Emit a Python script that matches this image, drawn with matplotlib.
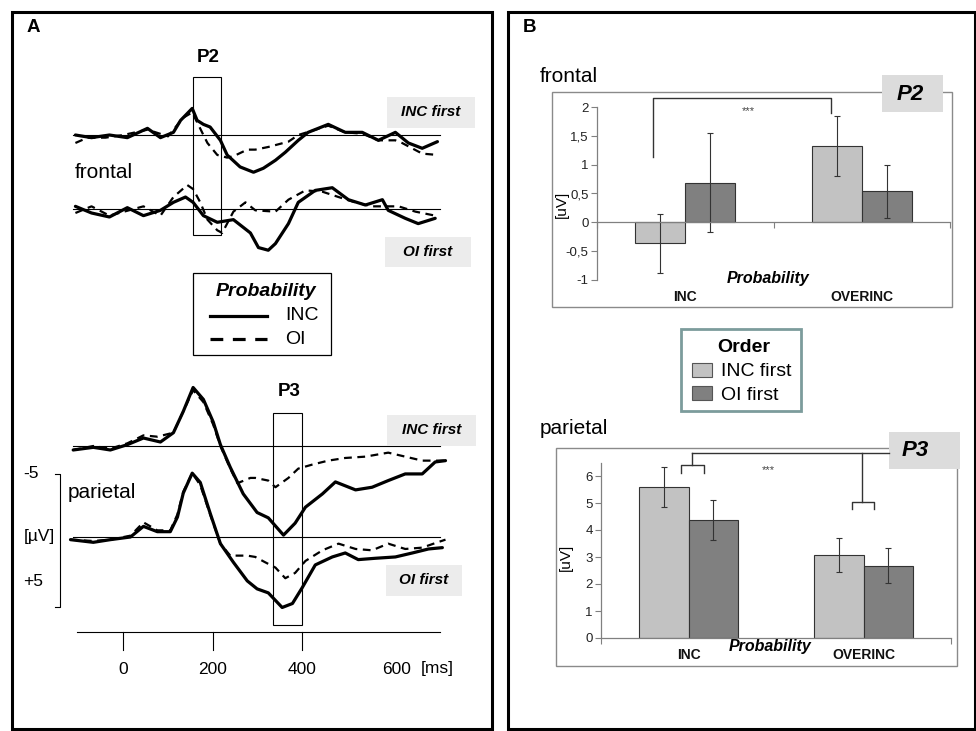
import matplotlib
matplotlib.use('Agg')
import matplotlib.pyplot as plt
import matplotlib.transforms as mtransforms
from matplotlib.patches import Rectangle
from matplotlib.lines import Line2D
import numpy as np

plt.rcParams['font.family'] = ['Liberation Sans', 'DejaVu Sans']

# ---------------------------------------------------------------- data
# ERP waveforms: time in ms, amplitude in µV (negative up, as in the figure)
# frontal, INC first block
fINC_sol_t = [-107, -71, -31, 9, 54, 83, 112, 128, 154, 165, 179, 194, 217, 232, 261, 291, 313, 340, 362, 391, 413, 458, 496, 534, 570, 608, 637, 668, 702]
fINC_sol_v = [0.0, 0.2, 0.0, 0.2, -0.5, 0.2, -0.2, -1.1, -2.0, -1.1, -0.8, -0.6, 0.4, 1.5, 2.4, 2.8, 2.5, 1.9, 1.3, 0.4, -0.2, -0.8, -0.2, -0.2, 0.4, -0.2, 0.6, 1.0, 0.5]
fINC_das_t = [-107, -80, -40, 0, 54, 100, 134, 154, 179, 188, 210, 232, 246, 277, 295, 324, 369, 391, 458, 496, 534, 570, 608, 623, 668, 702]
fINC_das_v = [0.6, 0.2, 0.2, 0.0, -0.4, 0.1, -1.3, -1.7, 0.0, 0.6, 1.5, 1.7, 1.6, 1.1, 1.1, 0.9, 0.5, 0.0, -0.7, -0.2, -0.1, 0.4, 0.4, 0.6, 1.4, 1.5]
# frontal, OI first block
fOI_sol_t = [-107, -71, -31, 9, 45, 83, 112, 139, 156, 179, 210, 246, 284, 302, 324, 340, 369, 391, 429, 467, 503, 541, 579, 592, 630, 659, 697]
fOI_sol_v = [-0.2, 0.3, 0.6, -0.1, 0.5, 0.1, -0.5, -0.9, -0.5, 0.5, 1.0, 0.8, 1.8, 2.9, 3.1, 2.6, 1.1, -0.5, -1.4, -1.6, -0.7, -0.3, -0.7, 0.1, 0.7, 1.1, 0.7]
fOI_das_t = [-107, -71, -31, 45, 83, 112, 143, 156, 172, 188, 210, 221, 246, 273, 295, 340, 369, 407, 445, 481, 518, 556, 615, 653, 697]
fOI_das_v = [0.3, -0.2, 0.5, -0.2, 0.5, -0.9, -1.8, -1.5, -0.5, 0.8, 1.6, 1.8, 0.2, -0.5, 0.1, 0.2, -0.7, -1.4, -1.3, -0.9, -0.5, -0.2, -0.2, 0.2, 0.5]
# parietal, INC first block
pINC_sol_t = [-112, -67, -29, 9, 45, 83, 112, 134, 156, 179, 201, 217, 239, 268, 299, 324, 358, 384, 407, 445, 474, 519, 556, 592, 630, 668, 697, 720]
pINC_sol_v = [0.3, 0.1, 0.3, -0.1, -0.6, -0.3, -1.0, -2.6, -4.4, -3.5, -1.8, -0.1, 1.6, 3.6, 5.0, 5.4, 6.7, 5.8, 4.6, 3.6, 2.7, 3.3, 3.1, 2.6, 2.1, 2.1, 1.2, 1.1]
pINC_das_t = [-112, -67, -29, 9, 45, 76, 112, 134, 156, 179, 201, 217, 239, 255, 284, 295, 324, 340, 369, 391, 422, 458, 496, 541, 592, 630, 668, 697, 720]
pINC_das_v = [0.3, 0.0, 0.2, -0.2, -0.8, -0.7, -1.0, -2.6, -4.2, -3.3, -1.6, 0.0, 1.7, 2.8, 2.4, 2.4, 2.6, 3.1, 2.4, 1.7, 1.4, 1.1, 0.9, 0.8, 0.5, 0.8, 1.1, 1.1, 1.1]
# parietal, OI first block
pOI_sol_t = [-118, -67, -29, 16, 45, 76, 105, 121, 134, 154, 172, 194, 217, 246, 277, 299, 324, 355, 378, 400, 429, 467, 496, 525, 563, 608, 646, 682, 713]
pOI_sol_v = [0.2, 0.4, 0.2, 0.0, -0.8, -0.4, -0.4, -1.5, -3.3, -4.8, -4.1, -1.8, 0.5, 1.9, 3.3, 3.9, 4.2, 5.3, 5.0, 3.8, 2.1, 1.5, 1.2, 1.7, 1.6, 1.5, 1.2, 0.9, 0.8]
pOI_das_t = [-118, -67, -29, 16, 45, 76, 105, 121, 134, 154, 172, 194, 217, 239, 277, 295, 317, 340, 362, 384, 407, 445, 481, 519, 556, 592, 630, 668, 702, 720]
pOI_das_v = [0.2, 0.3, 0.2, -0.1, -1.1, -0.5, -0.5, -1.7, -3.4, -4.8, -3.9, -1.7, 0.5, 1.4, 1.4, 1.5, 1.9, 2.3, 3.1, 2.7, 1.8, 1.0, 0.5, 0.9, 1.0, 0.5, 0.9, 0.8, 0.4, 0.2]

time_ticks = [0, 200, 400]

# bar charts (panel B)
categories = ['INC', 'OVERINC']
order_labels = ['INC first', 'OI first']
p2_inc_first = [-0.36, 1.32]
p2_inc_first_err = [0.51, 0.52]
p2_oi_first = [0.69, 0.54]
p2_oi_first_err = [0.86, 0.46]
p2_yticks = [-1, -0.5, 0, 0.5, 1, 1.5, 2]
p2_yticklabels = ['-1', '-0,5', '0', '0,5', '1', '1,5', '2']
p3_inc_first = [5.60, 3.07]
p3_inc_first_err = [0.74, 0.63]
p3_oi_first = [4.37, 2.68]
p3_oi_first_err = [0.73, 0.64]
p3_yticks = [0, 1, 2, 3, 4, 5, 6]
p3_yticklabels = ['0', '1', '2', '3', '4', '5', '6']

# ---------------------------------------------------------------- layout helpers
W, H = 976, 731
fig = plt.figure(figsize=(W / 100, H / 100), dpi=100)
fig.patch.set_facecolor('white')
px = mtransforms.Affine2D().scale(1.0 / W, -1.0 / H).translate(0, 1) + fig.transFigure


def rect_px(x0, y0, x1, y1):
    return [x0 / W, 1 - y1 / H, (x1 - x0) / W, (y1 - y0) / H]


def ftext(x, y, s, **kw):
    kw.setdefault('ha', 'center')
    kw.setdefault('va', 'center')
    return fig.text(x, y, s, transform=px, **kw)


def fline(xs, ys, **kw):
    fig.add_artist(Line2D(xs, ys, transform=px, **kw))


def frect(x0, y0, x1, y1, **kw):
    fig.add_artist(Rectangle((x0, y0), x1 - x0, y1 - y0, transform=px, **kw))


# panel frames
frect(12, 12, 492, 729, fill=False, lw=2.2, ec='black')
frect(508, 12, 975, 729, fill=False, lw=2.2, ec='black')
ftext(33, 28, 'A', fontsize=13.5, fontweight='bold')
ftext(530, 28, 'B', fontsize=13.5, fontweight='bold')

# ---------------------------------------------------------------- panel A
T0_PX = 123.3
PX_PER_MS = 0.4475
PX_PER_UV = 13.3


def tpx(p):
    return (p - T0_PX) / PX_PER_MS


def ypx(p):
    return p / PX_PER_UV


axA = fig.add_axes(rect_px(12, 12, 492, 730))
axA.set_xlim(tpx(12), tpx(492))
axA.set_ylim(ypx(730), ypx(12))
axA.axis('off')

baseline_px = [135, 209, 446, 537]
traces = [(fINC_sol_t, fINC_sol_v, fINC_das_t, fINC_das_v),
          (fOI_sol_t, fOI_sol_v, fOI_das_t, fOI_das_v),
          (pINC_sol_t, pINC_sol_v, pINC_das_t, pINC_das_v),
          (pOI_sol_t, pOI_sol_v, pOI_das_t, pOI_das_v)]
for (st, sv, dt, dv), bp in zip(traces, baseline_px):
    off = ypx(bp)
    axA.plot([tpx(73), tpx(440)], [off, off], color='black', lw=0.8)
    axA.plot(dt, off + np.asarray(dv), color='black', lw=1.6, dashes=(3.5, 2.5))
    axA.plot(st, off + np.asarray(sv), color='black', lw=2.3,
             solid_joinstyle='round', solid_capstyle='round')

# component windows
axA.add_patch(Rectangle((tpx(193), ypx(77)), tpx(221) - tpx(193), ypx(235) - ypx(77),
                        fill=False, lw=0.8, ec='black'))
axA.add_patch(Rectangle((tpx(273), ypx(413)), tpx(302) - tpx(273), ypx(625) - ypx(413),
                        fill=False, lw=0.8, ec='black'))
ftext(208, 57, 'P2', fontsize=13.5, fontweight='bold')
ftext(289, 392, 'P3', fontsize=13.5, fontweight='bold')

# time axis
axA.plot([tpx(77), tpx(440)], [ypx(632), ypx(632)], color='black', lw=0.8)
bt = mtransforms.blended_transform_factory(axA.transData, px)
for t in time_ticks:
    axA.plot([t, t], [ypx(632), ypx(650)], color='black', lw=0.8)
    fig.text(t, 669, str(t), transform=bt, ha='center', va='center', fontsize=12.5)
ftext(397, 669, '600', fontsize=12.5)
ftext(437, 669, '[ms]', fontsize=12.5)

# voltage scale
fline([55, 60, 60, 55], [474, 474, 607, 607], color='black', lw=0.8)
ftext(23, 473, '-5', fontsize=12.5, ha='left')
ftext(24, 537, '[µV]', fontsize=12.5, ha='left')
ftext(23, 582, '+5', fontsize=12.5, ha='left')

# site labels
ftext(75, 172, 'frontal', fontsize=15, ha='left')
ftext(68, 492, 'parietal', fontsize=15, ha='left')

# block labels
for (x0, y0, x1, y1, txt) in [(387, 97, 475, 128, 'INC first'),
                              (385, 237, 471, 267, 'OI first'),
                              (387, 415, 476, 446, 'INC first'),
                              (386, 565, 462, 596, 'OI first')]:
    frect(x0, y0, x1, y1, fc='#ececec', ec='none')
    ftext((x0 + x1) / 2, (y0 + y1) / 2, txt, fontsize=11, fontweight='bold',
          style='italic')

# legend A
frect(193, 273, 331, 355, fill=False, ec='black', lw=0.9)
ftext(266, 291, 'Probability', fontsize=14, fontweight='bold', style='italic')
fline([210, 267], [316, 316], color='black', lw=2.3)
ftext(285, 316, 'INC', fontsize=14, ha='left')
fline([210, 267], [339, 339], color='black', lw=2.3, dashes=(4, 3))
ftext(285, 339, 'OI', fontsize=14, ha='left')

# ---------------------------------------------------------------- panel B
LIGHT = '#c2c2c2'
DARK = '#808080'
EDGE = '#333333'
AXC = '#808080'


def bar_panel(rect, ylim, yticks, yticklabels, inc_first, inc_err, oi_first, oi_err):
    ax = fig.add_axes(rect_px(*rect))
    x = np.arange(len(categories))
    w = 0.283
    ekw = dict(ecolor=EDGE, elinewidth=0.8, capsize=2.5, capthick=0.8)
    ax.bar(x - w / 2, inc_first, w, yerr=inc_err, color=LIGHT, edgecolor=EDGE,
           linewidth=0.8, error_kw=ekw, zorder=2)
    ax.bar(x + w / 2, oi_first, w, yerr=oi_err, color=DARK, edgecolor=EDGE,
           linewidth=0.8, error_kw=ekw, zorder=2)
    ax.set_xlim(-0.5, 1.5)
    ax.set_ylim(*ylim)
    for s in ['top', 'right']:
        ax.spines[s].set_visible(False)
    for s in ['left', 'bottom']:
        ax.spines[s].set_color(AXC)
        ax.spines[s].set_linewidth(0.9)
    ax.spines['bottom'].set_position(('data', 0))
    ax.set_xticks([-0.5, 0.5, 1.5])
    ax.set_xticklabels([])
    ax.tick_params(axis='x', direction='out', length=4, color=AXC)
    ax.set_yticks(yticks)
    ax.set_yticklabels(yticklabels, fontsize=9.5, color='#222222')
    ax.tick_params(axis='y', direction='out', length=4, color=AXC, pad=2)
    ax.patch.set_alpha(0)
    return ax


# --- P2 (frontal)
ftext(540, 77, 'frontal', fontsize=15, ha='left')
frect(552, 92, 952, 307, fill=False, ec='#8a8a8a', lw=1.0)
ax2 = bar_panel((597, 107, 950, 280), (-1, 2), p2_yticks, p2_yticklabels,
                p2_inc_first, p2_inc_first_err, p2_oi_first, p2_oi_first_err)
b2 = mtransforms.blended_transform_factory(ax2.transData, px)
for i, c in enumerate(categories):
    fig.text(i, 297, c, transform=b2, ha='center', va='center', fontsize=10,
             fontweight='bold', color='#111111')
ftext(768, 278, 'Probability', fontsize=11.5, fontweight='bold', style='italic')
ftext(562, 204, '[uV]', fontsize=11, rotation=90)
fline([653, 653, 831, 831], [157, 98, 98, 113], color='#333333', lw=1.0)
ftext(748, 111, '***', fontsize=8, color='#444444')
frect(882, 75, 943, 112, fc='#dcdcdc', ec='none')
ftext(910, 94, 'P2', fontsize=16, fontweight='bold', style='italic')

# --- legend B
frect(681, 329, 801, 411, fc='white', ec='#7c9c9c', lw=2.0)
ftext(744, 347, 'Order', fontsize=14, fontweight='bold')
frect(692, 363, 712, 377, fc=LIGHT, ec='#555555', lw=0.8)
ftext(721, 372, order_labels[0], fontsize=14, ha='left')
frect(692, 386, 712, 400, fc=DARK, ec='#555555', lw=0.8)
ftext(721, 395, order_labels[1], fontsize=14, ha='left')

# --- P3 (parietal)
ftext(540, 428, 'parietal', fontsize=15, ha='left')
frect(556, 448, 957, 666, fill=False, ec='#8a8a8a', lw=1.0)
ax3 = bar_panel((601, 462.5, 951, 638), (0, 6.5), p3_yticks, p3_yticklabels,
                p3_inc_first, p3_inc_first_err, p3_oi_first, p3_oi_first_err)
b3 = mtransforms.blended_transform_factory(ax3.transData, px)
for i, c in enumerate(categories):
    fig.text(i, 655, c, transform=b3, ha='center', va='center', fontsize=10,
             fontweight='bold', color='#111111')
ftext(770, 647, 'Probability', fontsize=11.5, fontweight='bold', style='italic')
ftext(566, 557, '[uV]', fontsize=11, rotation=90)
fline([681, 681, 704, 704], [473, 465, 465, 473], color='#333333', lw=1.0)
fline([692, 692], [465, 453], color='#333333', lw=1.0)
fline([692, 889], [453, 453], color='#333333', lw=1.0)
fline([862, 862], [453, 502], color='#333333', lw=1.0)
fline([852, 852, 874, 874], [509, 502, 502, 509], color='#333333', lw=1.0)
ftext(768, 470, '***', fontsize=8, color='#444444')
frect(889, 432, 960, 469, fc='#dcdcdc', ec='none')
ftext(915, 451, 'P3', fontsize=16, fontweight='bold', style='italic')

fig.savefig('out.png', dpi=100, facecolor='white')
